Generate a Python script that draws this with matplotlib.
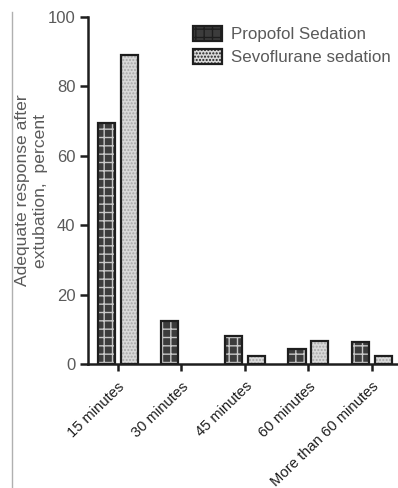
import matplotlib
matplotlib.use('Agg')
import matplotlib.pyplot as plt
import numpy as np
from matplotlib.lines import Line2D

plt.rcParams['font.family'] = ['Liberation Sans', 'DejaVu Sans']

categories = ['15 minutes', '30 minutes', '45 minutes', '60 minutes', 'More than 60 minutes']
propofol = [69.4, 12.4, 8.1, 4.3, 6.3]
sevoflurane = [89.0, 0.0, 2.3, 6.6, 2.3]
series_labels = ['Propofol Sedation', 'Sevoflurane sedation']

text_color = '#5a5a5a'
line_color = '#1e1e1e'

fig = plt.figure(figsize=(3.98, 4.88), dpi=100)
ax = fig.add_axes([0.221, 0.254, 0.779, 0.711])

x = np.arange(len(categories))
w = 0.27
off = 0.18

# hatched fill first (hatch takes edgecolor), then outline on top
b1 = ax.bar(x - off, propofol, w, color='#3c3c3c', edgecolor='#c8c8c8',
            hatch='++', linewidth=0, zorder=2)
b2 = ax.bar(x + off, sevoflurane, w, color='#d9d9d9', edgecolor='#a8a8a8',
            hatch='.....', linewidth=0, zorder=2)
o1 = ax.bar(x - off, propofol, w, fill=False, edgecolor=line_color, linewidth=1.6, zorder=3)
o2 = ax.bar(x + off, sevoflurane, w, fill=False, edgecolor=line_color, linewidth=1.6, zorder=3)
# a zero-height bar draws nothing in the original
for bars in (b1, b2, o1, o2):
    for r in bars:
        if r.get_height() == 0:
            r.set_visible(False)

ax.set_xlim(-0.47, 4.41)
ax.set_ylim(0, 100)
ax.set_yticks([0, 20, 40, 60, 80, 100])
ax.set_xticks(x)
ax.set_xticklabels(categories, rotation=44, ha='right', rotation_mode='anchor',
                   color=text_color, fontsize=10.6)
ax.tick_params(axis='y', colors=line_color, labelcolor=text_color, labelsize=12,
               length=6, width=1.8, pad=3)
ax.tick_params(axis='x', colors=line_color, length=5, width=1.8, pad=6)

for s in ['top', 'right']:
    ax.spines[s].set_visible(False)
for s in ['left', 'bottom']:
    ax.spines[s].set_linewidth(1.8)
    ax.spines[s].set_color(line_color)

ax.set_ylabel('Adequate response after\nextubation,  percent', color=text_color,
              fontsize=12.6, labelpad=0, linespacing=1.2)

leg = ax.legend([b1, b2], series_labels, loc='upper left', bbox_to_anchor=(0.312, 1.0),
                frameon=False, fontsize=12.2, handlelength=1.7, handleheight=1.0,
                handletextpad=0.55, labelspacing=0.4, borderaxespad=0.1)
for t in leg.get_texts():
    t.set_color(text_color)
for p in leg.get_patches():
    p.set_linewidth(1.6)
    p.set_edgecolor(line_color)

# thin gray border line on the left of the image
fig.add_artist(Line2D([0.030, 0.030], [0.0, 0.975], color='#b0b0b0', linewidth=1.0))

fig.savefig('out.png', dpi=100)
